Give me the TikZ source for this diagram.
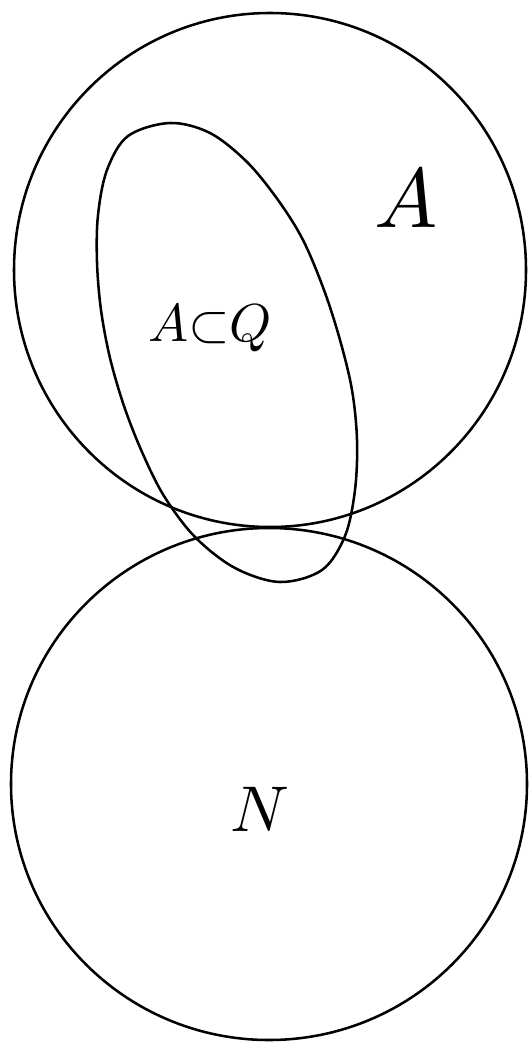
\documentclass[tikz,border=0pt]{standalone}
\usepackage{amsmath}
\usepackage{unicode-math}
\usepackage{tikz}
\usetikzlibrary{calc}

\tikzset{
    setline/.style={line width=1.8pt, black, line join=round},
    setlabel/.style={inner sep=0pt, font=\fontsize{46}{50}\selectfont}
}

\begin{document}
\begin{tikzpicture}[x=0.025cm, y=-0.025cm]
        \useasboundingbox (0,0) rectangle (528,1044);
        % the three sets
        \coordinate (cA) at (270,270);
        \coordinate (cN) at (269,784);
        \draw[setline] (cA) ellipse [x radius=256, y radius=257];
        \draw[setline] (cN) ellipse [x radius=258, y radius=256];
        % the egg for A c Q, drawn by hand through points
        \draw[setline] plot[smooth cycle, tension=0.55] coordinates {
            (170,123) (128,136) (107,170) (98,215) (97,262) (101,310)
            (110,358) (124,406) (142,452) (164,496) (195,537) (235,568)
            (280,582) (322,570) (345,536) (355,490) (357,440) (352,390)
            (340,340) (324,290) (303,240) (278,200) (247,162) (210,133)};
        % labels
        \node (labelA) [setlabel, font=\fontsize{60}{64}\selectfont] at (406,197) {$A$};
        \node (labelAQ) [setlabel, font=\fontsize{38}{42}\selectfont] at (210,328) {$A{\subset}Q$};
        \node (labelN) [setlabel] at (260,809) {$N$};
    \end{tikzpicture}
\end{document}
